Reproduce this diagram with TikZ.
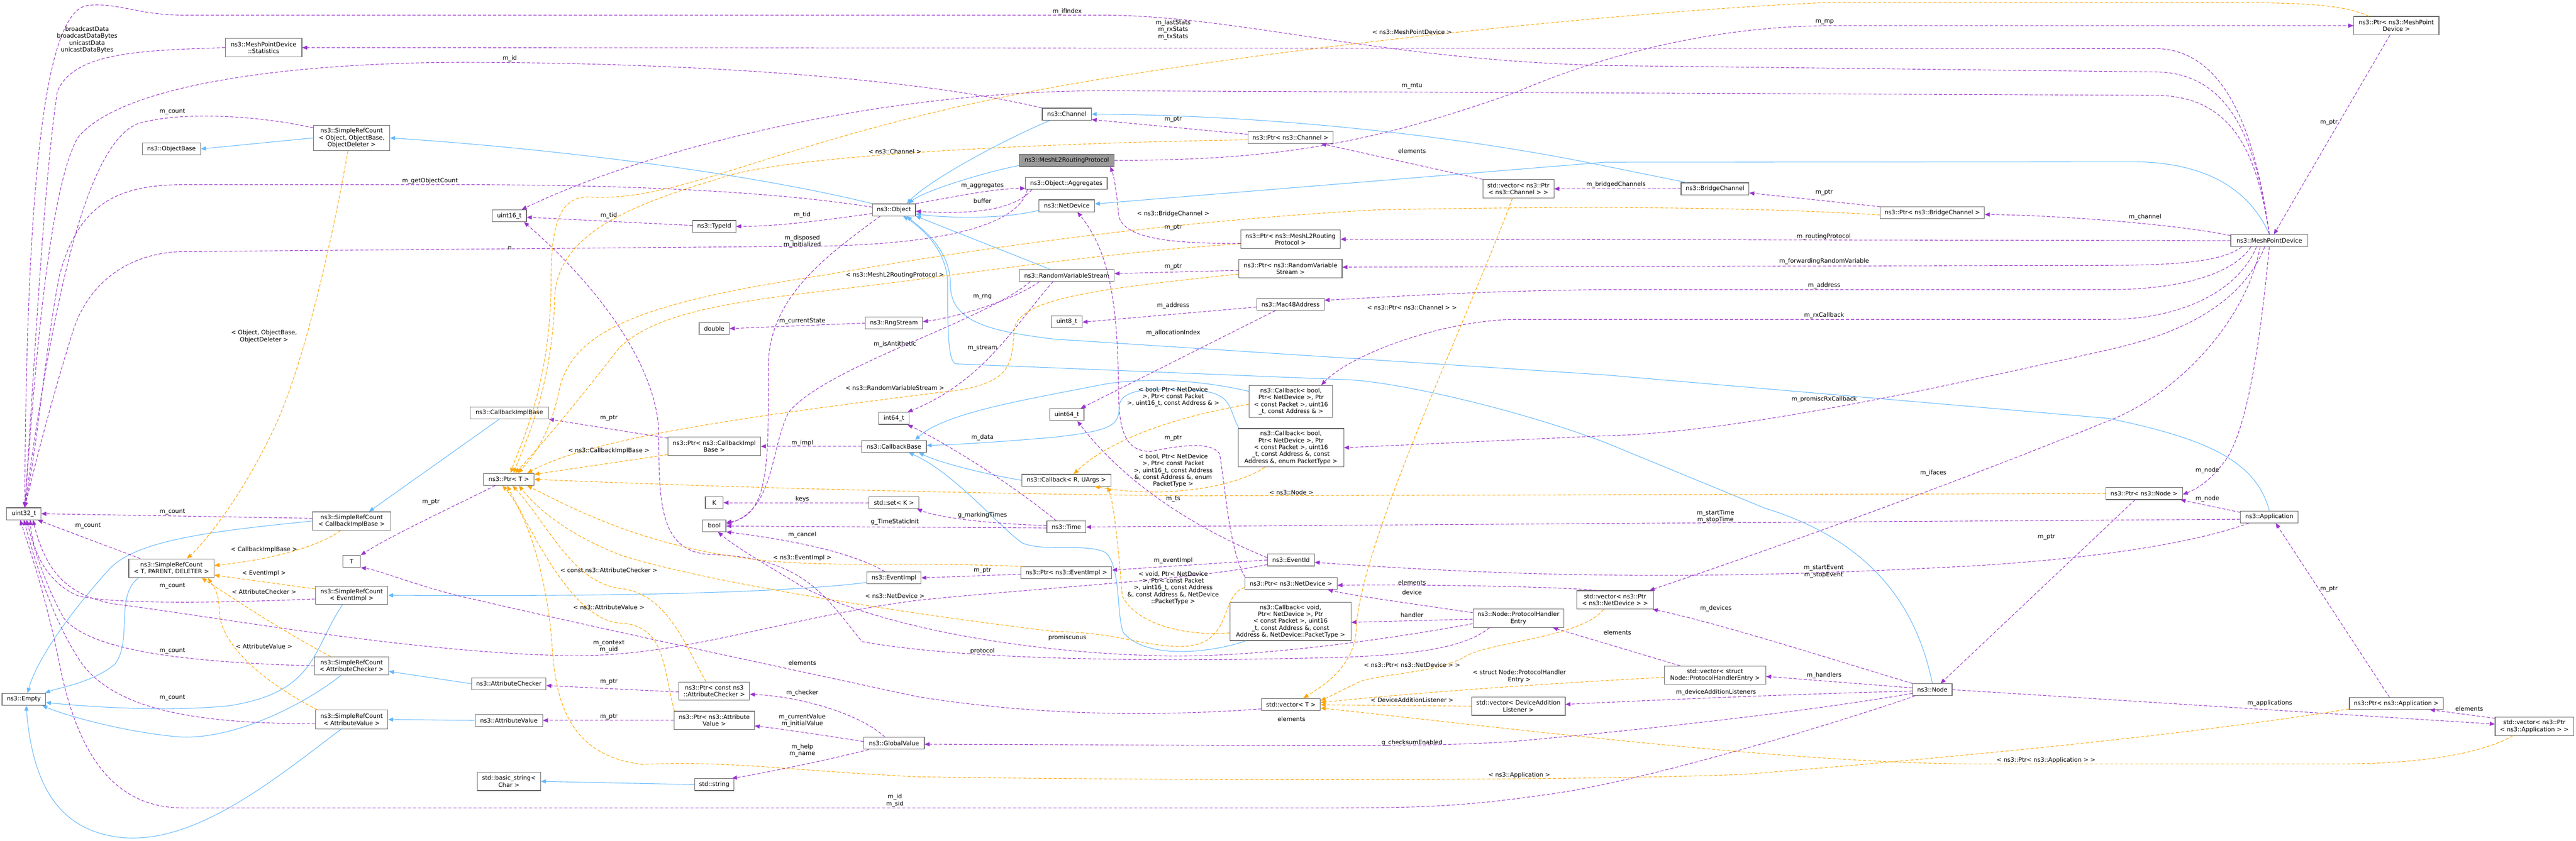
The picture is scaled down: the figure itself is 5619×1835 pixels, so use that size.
\documentclass[tikz,border=0pt]{standalone}
\usepackage{fontspec}
\setmainfont{DejaVu Sans}
\usetikzlibrary{arrows.meta}
\definecolor{purc}{HTML}{9A32CD}
\definecolor{bluec}{HTML}{63B8FF}
\definecolor{orc}{HTML}{FFA500}
\definecolor{boxc}{HTML}{666666}
\definecolor{hlc}{HTML}{999999}
\newcommand\dfs{\fontsize{13}{15}\selectfont}
\tikzset{
  box/.style={draw=boxc, line width=1.3pt, fill=white, font=\dfs, align=center, inner xsep=3pt, inner ysep=3pt, minimum height=26pt},
  hl/.style={box, fill=hlc},
  inh/.style={draw=bluec, line width=1.2pt, -{Triangle[length=11pt,width=9pt]}},
  use/.style={draw=purc, line width=1.2pt, dash pattern=on 7pt off 4pt, -{Triangle[length=11pt,width=9pt]}},
  tmpl/.style={draw=orc, line width=1.2pt, dash pattern=on 7pt off 4pt, -{Triangle[length=11pt,width=9pt]}},
  lbl/.style={font=\dfs, align=center, inner sep=0pt}
}
\begin{document}
\begin{tikzpicture}[x=1pt,y=-1pt]
\fill[white] (0,0) rectangle (5619,1835);
\useasboundingbox (0,0) rectangle (5619,1835);
% ---------------- nodes
\node[box,minimum width=75pt] (uint32) at (52,1121) {uint32\_t};
\node[box,minimum width=95pt] (empty) at (52,1526) {ns3::Empty};
\node[box,minimum width=167pt,minimum height=40pt] (stats) at (575,104) {ns3::MeshPointDevice\\::Statistics};
\node[box,minimum width=127pt] (objbase) at (374,325) {ns3::ObjectBase};
\node[box,minimum width=166pt,minimum height=55pt] (srcObj) at (767,301) {ns3::SimpleRefCount\\< Object, ObjectBase,\\ ObjectDeleter >};
\node[box,minimum width=170pt,minimum height=40pt] (srcCIB) at (767,1137) {ns3::SimpleRefCount\\< CallbackImplBase >};
\node[box,minimum width=186pt,minimum height=41pt] (srcT) at (374,1240) {ns3::SimpleRefCount\\< T, PARENT, DELETER >};
\node[box,minimum width=39pt] (Tn) at (767,1225) {T};
\node[box,minimum width=158pt,minimum height=40pt] (srcEI) at (767,1299) {ns3::SimpleRefCount\\< EventImpl >};
\node[box,minimum width=161pt,minimum height=40pt] (srcAC) at (767,1453) {ns3::SimpleRefCount\\< AttributeChecker >};
\node[box,minimum width=158pt,minimum height=41pt] (srcAV) at (767,1570) {ns3::SimpleRefCount\\< AttributeValue >};
\node[box,minimum width=75pt] (uint16) at (1111,471) {uint16\_t};
\node[box,minimum width=171pt] (cib) at (1111,901) {ns3::CallbackImplBase};
\node[box,minimum width=110pt] (ptrT) at (1110,1046) {ns3::Ptr< T >};
\node[box,minimum width=162pt] (ac) at (1110,1492) {ns3::AttributeChecker};
\node[box,minimum width=147pt] (av) at (1110,1572) {ns3::AttributeValue};
\node[box,minimum width=138pt,minimum height=40pt] (bstr) at (1110,1705) {std::basic\_string<\\ Char >};
\node[box,minimum width=94pt] (typeid) at (1558,494) {ns3::TypeId};
\node[box,minimum width=66pt] (dbl) at (1558,717) {double};
\node[box,minimum width=202pt,minimum height=40pt] (ptrCIB) at (1558,974) {ns3::Ptr< ns3::CallbackImpl\\Base >};
\node[box,minimum width=39pt] (Kn) at (1558,1097) {K};
\node[box,minimum width=51pt] (boolN) at (1558,1147) {bool};
\node[box,minimum width=154pt,minimum height=40pt] (ptrAC) at (1558,1508) {ns3::Ptr< const ns3\\::AttributeChecker >};
\node[box,minimum width=175pt,minimum height=40pt] (ptrAV) at (1558,1572) {ns3::Ptr< ns3::Attribute\\Value >};
\node[box,minimum width=86pt] (str) at (1558,1712) {std::string};
\node[box,minimum width=94pt] (object) at (1950,458) {ns3::Object};
\node[box,minimum width=125pt] (rng) at (1950,705) {ns3::RngStream};
\node[box,minimum width=66pt] (int64) at (1950,913) {int64\_t};
\node[box,minimum width=141pt] (cbbase) at (1950,974) {ns3::CallbackBase};
\node[box,minimum width=109pt] (setK) at (1950,1097) {std::set< K >};
\node[box,minimum width=118pt] (eventimpl) at (1950,1261) {ns3::EventImpl};
\node[box,minimum width=132pt] (globalvalue) at (1950,1622) {ns3::GlobalValue};
\node[box,minimum width=107pt] (channel) at (2327,249) {ns3::Channel};
\node[hl,minimum width=207pt] (meshl2) at (2327,350) {ns3::MeshL2RoutingProtocol};
\node[box,minimum width=178pt] (aggregates) at (2326,400) {ns3::Object::Aggregates};
\node[box,minimum width=121pt] (netdevice) at (2327,449) {ns3::NetDevice};
\node[box,minimum width=207pt] (rvs) at (2327,601) {ns3::RandomVariableStream};
\node[box,minimum width=67pt] (uint8) at (2327,702) {uint8\_t};
\node[box,minimum width=75pt] (uint64) at (2327,905) {uint64\_t};
\node[box,minimum width=194pt] (callbackR) at (2326,1048) {ns3::Callback< R, UArgs >};
\node[box,minimum width=85pt] (timeN) at (2326,1150) {ns3::Time};
\node[box,minimum width=198pt] (ptrEI) at (2326,1250) {ns3::Ptr< ns3::EventImpl >};
\node[box,minimum width=186pt] (ptrChannel) at (2815,300) {ns3::Ptr< ns3::Channel >};
\node[box,minimum width=217pt,minimum height=40pt] (ptrMeshL2) at (2815,522) {ns3::Ptr< ns3::MeshL2Routing\\Protocol >};
\node[box,minimum width=225pt,minimum height=40pt] (ptrRVS) at (2815,586) {ns3::Ptr< ns3::RandomVariable\\Stream >};
\node[box,minimum width=147pt] (mac48) at (2815,664) {ns3::Mac48Address};
\node[box,minimum width=182pt,minimum height=70pt] (cb1) at (2816,876) {ns3::Callback< bool,\\ Ptr< NetDevice >, Ptr\\< const Packet >, uint16\\\_t, const Address \& >};
\node[box,minimum width=230pt,minimum height=84pt] (cb2) at (2816,977) {ns3::Callback< bool,\\ Ptr< NetDevice >, Ptr\\< const Packet >, uint16\\\_t, const Address \&, const\\ Address \&, enum PacketType >};
\node[box,minimum width=102pt] (eventid) at (2816,1222) {ns3::EventId};
\node[box,minimum width=201pt] (ptrND) at (2816,1273) {ns3::Ptr< ns3::NetDevice >};
\node[box,minimum width=264pt,minimum height=84pt] (cb3) at (2815,1356) {ns3::Callback< void,\\ Ptr< NetDevice >, Ptr\\< const Packet >, uint16\\\_t, const Address \&, const\\ Address \&, NetDevice::PacketType >};
\node[box,minimum width=128pt] (vecT) at (2816,1537) {std::vector< T >};
\node[box,minimum width=155pt,minimum height=40pt] (vecChannel) at (3312,412) {std::vector< ns3::Ptr\\< ns3::Channel > >};
\node[box,minimum width=198pt,minimum height=40pt] (phe) at (3312,1349) {ns3::Node::ProtocolHandler\\Entry};
\node[box,minimum width=204pt,minimum height=40pt] (vecDAL) at (3312,1541) {std::vector< DeviceAddition\\Listener >};
\node[box,minimum width=167pt,minimum height=40pt] (vecND) at (3523,1309) {std::vector< ns3::Ptr\\< ns3::NetDevice > >};
\node[box,minimum width=148pt] (bridge) at (3741,412) {ns3::BridgeChannel};
\node[box,minimum width=221pt,minimum height=39pt] (vecPHE) at (3741,1473) {std::vector< struct\\ Node::ProtocolHandlerEntry >};
\node[box,minimum width=227pt] (ptrBridge) at (4215,464) {ns3::Ptr< ns3::BridgeChannel >};
\node[box,minimum width=86pt] (nodeN) at (4215,1505) {ns3::Node};
\node[box,minimum width=167pt] (ptrNode) at (4677,1077) {ns3::Ptr< ns3::Node >};
\node[box,minimum width=168pt] (mpd) at (4950,525) {ns3::MeshPointDevice};
\node[box,minimum width=126pt] (app) at (4950,1128) {ns3::Application};
\node[box,minimum width=186pt,minimum height=40pt] (ptrMPD) at (5227,56) {ns3::Ptr< ns3::MeshPoint\\Device >};
\node[box,minimum width=205pt] (ptrApp) at (5227,1535) {ns3::Ptr< ns3::Application >};
\node[box,minimum width=171pt,minimum height=40pt] (vecApp) at (5528,1585) {std::vector< ns3::Ptr\\< ns3::Application > >};

% ---------------- inheritance (blue)
\draw[inh] (srcObj.west) -- (objbase.east);
\draw[inh] (object.north west) .. controls (1600,370) and (1150,320) .. (srcObj.east);
\draw[inh] (srcCIB.west) .. controls (450,1160) and (300,1180) .. (240,1240) .. controls (150,1340) and (80,1440) .. ([xshift=8]empty.north);
\draw[inh] ([xshift=-72]srcT.south) .. controls (250,1300) and (290,1400) .. (250,1450) .. controls (200,1490) and (130,1500) .. ([xshift=-2]empty.north east);
\draw[inh] ([xshift=-20]srcEI.south) .. controls (680,1420) and (690,1510) .. (500,1540) .. controls (350,1555) and (170,1540) .. ([yshift=-7]empty.east);
\draw[inh] ([xshift=-23]srcAC.south) .. controls (660,1540) and (500,1620) .. (380,1607) .. controls (260,1595) and (140,1560) .. ([xshift=-8]empty.south east);
\draw[inh] ([xshift=-23]srcAV.south) .. controls (600,1700) and (430,1840) .. (270,1828) .. controls (120,1815) and (70,1700) .. ([xshift=5]empty.south);
\draw[inh] ([xshift=-22]cib.south) -- ([xshift=38]srcCIB.north);
\draw[inh] ([yshift=-10]eventimpl.west) .. controls (1700,1295) and (1300,1302) .. (srcEI.east);
\draw[inh] (ac.west) -- ([yshift=-12]srcAC.east);
\draw[inh] (av.west) -- (srcAV.east);
\draw[inh] (str.west) -- (bstr.east);
\draw[inh] ([xshift=-36]channel.south) .. controls (2200,300) and (2030,390) .. ([xshift=28]object.north);
\draw[inh] ([yshift=-11]meshl2.west) .. controls (2130,380) and (2010,420) .. ([xshift=32]object.north);
\draw[inh] ([yshift=-10]netdevice.west) .. controls (2180,480) and (2060,475) .. ([yshift=-9]object.east);
\draw[inh] ([xshift=-37]rvs.north) -- (object.south east);
\draw[inh] (nodeN.north) .. controls (4180,1320) and (4080,1180) .. (3850,1109) -- (3500,965) .. controls (3300,890) and (3050,835) .. (2947,829) -- (2085,794) .. controls (2068,790) and (2067,720) .. (2067,620) .. controls (2067,540) and (2000,490) .. ([xshift=20]object.south);
\draw[inh] (app.north) .. controls (4920,1000) and (4800,955) .. (4600,913) -- (3500,818) -- (2300,740) .. controls (2150,722) and (2073,700) .. (2073,620) .. controls (2073,540) and (2005,495) .. ([xshift=28]object.south);
\draw[inh] (mpd.north) .. controls (4910,420) and (4820,353) .. (4650,353) -- (3500,354) -- ([yshift=4]netdevice.east);
\draw[inh] ([xshift=-62]bridge.north) -- (3500,362) .. controls (3200,300) and (2800,252) .. (channel.east);
\draw[inh] (callbackR.west) .. controls (2150,1035) and (2050,1010) .. ([xshift=54]cbbase.south);
\draw[inh] ([yshift=22]cb1.west) .. controls (2600,825) and (2480,825) .. (2400,840) .. controls (2250,870) and (2060,900) .. ([xshift=46]cbbase.north);
\draw[inh] ([xshift=2]cb2.north west) .. controls (2680,895) and (2690,860) .. (2620,853) .. controls (2520,845) and (2441,845) .. (2441,890) .. controls (2441,930) and (2420,940) .. (2300,954) .. controls (2150,967) and (2080,970) .. ([yshift=2]cbbase.east);
\draw[inh] ([xshift=-98]cb3.south) .. controls (2640,1425) and (2500,1440) .. (2450,1380) .. controls (2435,1340) and (2445,1230) .. (2410,1205) .. controls (2370,1185) and (2280,1205) .. (2230,1185) .. controls (2180,1150) and (2080,1030) .. ([xshift=32]cbbase.south);

% ---------------- usage (purple)
\draw[use] (mpd.north) .. controls (4925,330) and (4870,106) .. (4700,106) -- (stats.east);
\draw[use] (mpd.north) .. controls (4925,340) and (4880,157) .. (4700,157) -- (3500,143) .. controls (3000,130) and (2700,33) .. (2400,33) -- (400,33) .. controls (300,33) and (260,5) .. (190,12) .. controls (110,25) and (58,300) .. ([xshift=2]uint32.north);
\draw[use] (mpd.north) .. controls (4925,350) and (4880,208) .. (4700,208) -- (2400,198) .. controls (1900,200) and (1400,330) .. ([xshift=27]uint16.north);
\draw[use] (meshl2.east) .. controls (2800,350) and (3000,310) .. (3310,200) .. controls (3450,140) and (3700,56) .. (4000,56) -- (ptrMPD.west);
\draw[use] ([xshift=-14]ptrMPD.south) -- ([xshift=10]mpd.north);
\draw[use] ([yshift=11]mpd.west) .. controls (4750,490) and (4500,470) .. ([yshift=-4]ptrBridge.east);
\draw[use] ([yshift=13]ptrBridge.west) -- ([yshift=-9]bridge.east);
\draw[use] (bridge.west) -- (vecChannel.east);
\draw[use] (vecChannel.north west) -- ([xshift=67]ptrChannel.south);
\draw[use] ([yshift=7]ptrChannel.west) -- ([yshift=-12]channel.east);
\draw[use] ([xshift=-55]channel.north) .. controls (2000,170) and (1500,136) .. (1000,136) .. controls (600,138) and (260,190) .. (170,300) .. controls (100,420) and (70,900) .. ([xshift=2]uint32.north);
\draw[use] (mpd.west) -- (ptrMeshL2.east);
\draw[use] ([yshift=-9]ptrMeshL2.west) .. controls (2550,532) and (2450,520) .. (2440,470) .. controls (2436,420) and (2430,385) .. ([xshift=95]meshl2.south);
\draw[use] ([xshift=-60]mpd.south) .. controls (4850,570) and (4750,579) .. (4600,579) -- ([yshift=3]ptrRVS.east);
\draw[use] ([yshift=-4]ptrRVS.west) -- ([yshift=4]rvs.east);
\draw[use] ([xshift=-40]mpd.south) .. controls (4870,600) and (4750,632) .. (4600,632) -- (3500,632) .. controls (3200,635) and (3000,650) .. ([yshift=9]mac48.east);
\draw[use] ([yshift=-6]mac48.west) -- ([yshift=-1]uint8.east);
\draw[use] ([xshift=-33]mac48.south) -- ([xshift=30]uint64.north);
\draw[use] ([xshift=-28]mpd.south) .. controls (4880,640) and (4750,697) .. (4600,697) -- (3300,697) .. controls (3150,700) and (2950,770) .. ([xshift=66]cb1.north);
\draw[use] ([xshift=-10]mpd.south) .. controls (4880,690) and (4700,740) .. (4600,763) .. controls (4300,830) and (3800,945) .. (3500,951) -- (cb2.east);
\draw[use] (object.north east) .. controls (2080,430) and (2160,412) .. ([yshift=-11]aggregates.west);
\draw[use] ([xshift=-75]aggregates.south) .. controls (2220,450) and (2150,470) .. ([yshift=-3]object.east);
\draw[use] ([xshift=-85]aggregates.south) .. controls (2225,480) and (2100,530) .. (1800,537) -- (400,549) .. controls (300,550) and (200,600) .. (160,720) .. controls (110,880) and (80,1000) .. ([xshift=2]uint32.north);
\draw[use] ([yshift=-8]object.west) .. controls (1800,480) and (1700,494) .. (typeid.east);
\draw[use] ([yshift=2]typeid.west) -- ([yshift=-3]uint16.east);
\draw[use] ([yshift=6]object.west) .. controls (1700,420) and (1400,403) .. (1000,403) -- (400,403) .. controls (250,403) and (170,450) .. (130,600) .. controls (100,750) and (85,950) .. ([xshift=2]uint32.north);
\draw[use] (stats.west) .. controls (300,110) and (160,115) .. (125,200) .. controls (95,400) and (75,800) .. ([xshift=2]uint32.north);
\draw[use] ([yshift=22]srcObj.west) .. controls (580,255) and (400,240) .. (300,270) .. controls (180,320) and (110,700) .. ([xshift=2]uint32.north);
\draw[use] ([yshift=6]srcCIB.west) -- (uint32.east);
\draw[use] ([xshift=-68]srcT.north) -- ([xshift=30]uint32.south);
\draw[use] ([yshift=-8]srcEI.west) .. controls (500,1315) and (250,1320) .. (170,1300) .. controls (100,1270) and (70,1200) .. ([xshift=14]uint32.south);
\draw[use] (srcAC.west) .. controls (400,1445) and (200,1420) .. (140,1350) .. controls (100,1280) and (75,1200) .. ([xshift=6]uint32.south);
\draw[use] ([yshift=-9]srcAV.west) .. controls (400,1580) and (250,1540) .. (180,1450) .. controls (110,1350) and (70,1200) .. (uint32.south);
\draw[use] ([yshift=-10]eventid.west) .. controls (2600,1265) and (2300,1280) .. (2000,1310) .. controls (1700,1350) and (1500,1431) .. (1250,1431) .. controls (900,1425) and (500,1350) .. (250,1318) .. controls (150,1300) and (100,1250) .. ([xshift=20]uint32.south);
\draw[use] ([xshift=-38]nodeN.south) .. controls (4000,1580) and (3600,1700) .. (3400,1730) .. controls (3200,1760) and (3100,1763) .. (2900,1763) -- (400,1763) .. controls (250,1763) and (170,1650) .. (130,1450) .. controls (100,1300) and (65,1200) .. ([xshift=-8]uint32.south);
\draw[use] ([xshift=-30]ptrT.south) .. controls (1000,1100) and (850,1170) .. (Tn.north east);
\draw[use] ([yshift=-10]vecT.west) .. controls (2500,1565) and (2250,1560) .. (2000,1520) .. controls (1700,1455) and (1300,1370) .. (1000,1300) .. controls (900,1275) and (830,1245) .. (Tn.south east);
\draw[use] ([yshift=18]ptrCIB.west) -- (cib.south east);
\draw[use] (cbbase.west) -- (ptrCIB.east);
\draw[use] ([xshift=-60]rvs.south) .. controls (2220,650) and (2100,690) .. ([yshift=3]rng.east);
\draw[use] (rng.west) -- (dbl.east);
\draw[use] ([xshift=-80]rvs.south) .. controls (2150,700) and (1800,800) .. (1720,900) .. controls (1680,980) and (1690,1110) .. ([yshift=3]boolN.east);
\draw[use] ([xshift=-30]rvs.south) .. controls (2220,700) and (2150,830) .. ([xshift=-4]int64.north east);
\draw[use] ([xshift=-22]timeN.north) .. controls (2200,1050) and (2050,960) .. ([xshift=-4]int64.south east);
\draw[use] ([yshift=3]timeN.west) .. controls (2150,1142) and (2050,1130) .. ([xshift=-5]setK.south east);
\draw[use] ([yshift=-2]timeN.west) -- ([yshift=-1]boolN.east);
\draw[use] (setK.west) -- (Kn.east);
\draw[use] ([xshift=-20]eventimpl.north) .. controls (1850,1200) and (1700,1175) .. (boolN.south east);
\draw[use] ([xshift=-30]object.south) .. controls (1800,560) and (1676,650) .. (1676,800) .. controls (1676,1000) and (1680,1125) .. ([yshift=7]boolN.east);
\draw[use] ([yshift=-12]phe.west) .. controls (3000,1400) and (2700,1440) .. (2500,1430) .. controls (2200,1420) and (1900,1360) .. (1750,1280) .. controls (1650,1220) and (1600,1190) .. ([xshift=8]boolN.south);
\draw[use] ([xshift=-63]phe.south) .. controls (3200,1410) and (3100,1430) .. (2900,1435) .. controls (2500,1445) and (2100,1440) .. (1880,1400) .. controls (1800,1300) and (1750,1215) .. (1550,1210) .. controls (1440,1205) and (1437,1100) .. (1437,950) .. controls (1437,800) and (1300,620) .. ([xshift=32]uint16.south);
\draw[use] (eventid.west) -- ([yshift=6]ptrEI.east);
\draw[use] ([yshift=-3]ptrEI.west) -- (eventimpl.east);
\draw[use] ([yshift=5]eventid.west) .. controls (2600,1150) and (2450,1050) .. ([xshift=23]uint64.south);
\draw[use] ([xshift=-20]globalvalue.north) .. controls (1880,1560) and (1750,1520) .. ([yshift=-7]ptrAC.east);
\draw[use] ([yshift=4]globalvalue.west) .. controls (1800,1605) and (1700,1590) .. ([yshift=-12]ptrAV.east);
\draw[use] ([xshift=-55]globalvalue.south) .. controls (1800,1660) and (1650,1690) .. ([xshift=-5]str.north east);
\draw[use] ([yshift=-2]ptrAC.west) -- ([yshift=-4]ac.east);
\draw[use] (ptrAV.west) -- (av.east);
\draw[use] ([yshift=-8]nodeN.west) .. controls (3900,1560) and (3500,1600) .. (3300,1618) .. controls (3100,1632) and (2800,1626) .. ([yshift=-2]globalvalue.east);
\draw[use] (nodeN.north west) .. controls (4000,1440) and (3750,1360) .. ([xshift=-2]vecND.south east);
\draw[use] ([yshift=4]nodeN.west) -- ([yshift=-3]vecPHE.east);
\draw[use] ([yshift=-3]nodeN.west) .. controls (3900,1515) and (3600,1528) .. ([yshift=4]vecDAL.east);
\draw[use] (nodeN.east) .. controls (4500,1520) and (5200,1565) .. ([yshift=5]vecApp.west);
\draw[use] ([yshift=-3]vecApp.north west) -- ([xshift=-30]ptrApp.south east);
\draw[use] ([xshift=-15]ptrApp.north) -- ([xshift=14]app.south);
\draw[use] ([yshift=10]app.west) -- ([xshift=-5]ptrNode.south east);
\draw[use] (mpd.south) .. controls (4930,750) and (4900,950) .. (4850,1010) .. controls (4820,1050) and (4790,1068) .. ([yshift=-2]ptrNode.east);
\draw[use] ([xshift=-20]ptrNode.south) -- ([xshift=18]nodeN.north);
\draw[use] ([yshift=-5]app.west) -- (timeN.east);
\draw[use] ([xshift=-45]app.south) .. controls (4800,1180) and (4600,1217) .. (4300,1235) .. controls (3800,1262) and (3400,1265) .. ([yshift=-5]eventid.east);
\draw[use] ([xshift=-20]mpd.south) .. controls (4900,700) and (4750,860) .. (4600,918) .. controls (4200,1080) and (3800,1220) .. ([xshift=75]vecND.north);
\draw[use] ([xshift=-40]vecND.north) .. controls (3400,1280) and (3100,1275) .. ([yshift=-4]ptrND.east);
\draw[use] ([yshift=12]phe.west) .. controls (3100,1320) and (2950,1300) .. ([xshift=80]ptrND.south);
\draw[use] ([yshift=-2]phe.west) -- ([yshift=-2]cb3.east);
\draw[use] ([xshift=-76]vecPHE.north) -- ([xshift=75]phe.south);
\draw[use] ([xshift=-100]ptrND.north) .. controls (2680,1200) and (2672,1050) .. (2660,990) .. controls (2640,960) and (2560,975) .. (2510,985) .. controls (2460,985) and (2441,950) .. (2440,860) .. controls (2438,700) and (2430,560) .. ([xshift=23]netdevice.south);

% ---------------- template instances (orange)
\draw[tmpl] ([xshift=-8]srcObj.south) .. controls (720,550) and (660,800) .. (600,930) .. controls (530,1080) and (450,1180) .. ([xshift=34]srcT.north);
\draw[tmpl] ([xshift=-24]srcCIB.south) .. controls (700,1190) and (600,1220) .. ([yshift=6]srcT.east);
\draw[tmpl] ([yshift=14]srcEI.west) -- ([yshift=-15]srcT.east);
\draw[tmpl] ([xshift=-46]srcAC.north) .. controls (620,1380) and (500,1300) .. ([xshift=66]srcT.south);
\draw[tmpl] ([xshift=-75]srcAV.north) .. controls (560,1480) and (478,1400) .. (478,1330) .. controls (478,1290) and (462,1275) .. ([xshift=80]srcT.south);
\draw[tmpl] ([yshift=-18]ptrCIB.west) -- ([yshift=11]ptrT.east);
\draw[tmpl] ([yshift=-5]ptrChannel.west) .. controls (2400,310) and (1800,330) .. (1600,380) .. controls (1400,440) and (1215,500) .. (1210,650) .. controls (1205,850) and (1140,980) .. ([xshift=10]ptrT.north);
\draw[tmpl] ([xshift=-60]ptrMPD.north) .. controls (5100,5) and (5000,5) .. (4700,5) -- (4000,5) .. controls (3600,20) and (2800,100) .. (2300,190) .. controls (1700,300) and (1500,440) .. (1290,430) .. controls (1215,425) and (1202,500) .. (1202,620) .. controls (1200,850) and (1130,980) .. ([xshift=4]ptrT.north);
\draw[tmpl] ([yshift=-5]ptrBridge.west) .. controls (3800,450) and (3400,450) .. (3000,458) .. controls (2600,480) and (2200,530) .. (1800,600) .. controls (1400,660) and (1250,720) .. (1220,850) .. controls (1200,950) and (1160,1000) .. ([xshift=20]ptrT.north);
\draw[tmpl] ([yshift=-10]ptrMeshL2.west) .. controls (2500,545) and (2300,570) .. (2000,610) .. controls (1700,650) and (1450,660) .. (1350,760) .. controls (1280,850) and (1200,950) .. ([xshift=14]ptrT.north);
\draw[tmpl] ([yshift=-12]ptrRVS.west) .. controls (2400,630) and (2220,650) .. (2212,720) .. controls (2208,800) and (2200,830) .. (2100,850) .. controls (1700,900) and (1300,950) .. ([xshift=40]ptrT.north);
\draw[tmpl] ([xshift=-94]ptrEI.north) .. controls (2000,1225) and (1800,1240) .. (1640,1220) .. controls (1400,1190) and (1250,1110) .. ([xshift=40]ptrT.south);
\draw[tmpl] ([yshift=-9]ptrND.west) .. controls (2660,1300) and (2690,1400) .. (2590,1410) .. controls (2500,1415) and (2450,1380) .. (2300,1378) .. controls (1900,1330) and (1500,1260) .. (1350,1210) .. controls (1250,1170) and (1180,1120) .. ([xshift=22]ptrT.south);
\draw[tmpl] ([xshift=-18]ptrAC.north) .. controls (1500,1420) and (1460,1300) .. (1360,1285) .. controls (1250,1275) and (1200,1150) .. ([xshift=8]ptrT.south);
\draw[tmpl] ([xshift=-87]ptrAV.north) .. controls (1445,1450) and (1450,1370) .. (1360,1360) .. controls (1260,1360) and (1180,1200) .. ([xshift=-4]ptrT.south);
\draw[tmpl] ([yshift=-12]ptrApp.west) .. controls (4800,1600) and (4300,1650) .. (3800,1690) .. controls (3400,1705) and (2500,1703) .. (2000,1695) .. controls (1700,1680) and (1600,1660) .. (1400,1668) .. controls (1260,1650) and (1215,1560) .. (1205,1420) .. controls (1195,1260) and (1150,1120) .. ([xshift=-14]ptrT.south);
\draw[tmpl] (ptrNode.west) -- (2600,1082) .. controls (2000,1076) and (1500,1060) .. (ptrT.east);
\draw[tmpl] ([xshift=-13]vecChannel.south) .. controls (3200,700) and (2960,1200) .. (2958,1380) .. controls (2950,1460) and (2880,1500) .. ([xshift=27]vecT.north);
\draw[tmpl] ([xshift=-25]vecND.south) .. controls (3450,1390) and (3260,1400) .. (3200,1430) .. controls (3140,1470) and (3000,1470) .. (2960,1490) .. controls (2930,1505) and (2900,1520) .. ([yshift=8]vecT.east);
\draw[tmpl] ([yshift=-5]vecPHE.west) .. controls (3400,1490) and (3100,1510) .. ([yshift=4]vecT.east);
\draw[tmpl] (vecDAL.west) -- ([yshift=-1]vecT.east);
\draw[tmpl] ([xshift=-47]vecApp.south) .. controls (5420,1640) and (5300,1667) .. (5100,1667) -- (4300,1667) .. controls (3900,1665) and (3300,1590) .. ([yshift=-8]vecT.east);
\draw[tmpl] ([yshift=-6]cb1.west) .. controls (2560,910) and (2420,960) .. ([xshift=16]callbackR.north);
\draw[tmpl] ([xshift=-57]cb2.south) .. controls (2700,1060) and (2550,1090) .. ([xshift=62]callbackR.south);
\draw[tmpl] ([yshift=-25]cb3.west) .. controls (2560,1390) and (2470,1350) .. (2448,1300) .. controls (2440,1200) and (2430,1100) .. ([xshift=-8]callbackR.south east);

% ---------------- labels
\node[lbl] (l1) at (190,87) {broadcastData\\broadcastDataBytes\\unicastData\\unicastDataBytes};
\node[lbl] (l2) at (2328,25) {m\_ifIndex};
\node[lbl] (l3) at (2559,65) {m\_lastStats\\m\_rxStats\\m\_txStats};
\node[lbl] (l4) at (3080,70) {< ns3::MeshPointDevice >};
\node[lbl] (l5) at (3080,188) {m\_mtu};
\node[lbl] (l6) at (3980,48) {m\_mp};
\node[lbl] (l7) at (1112,127) {m\_id};
\node[lbl] (l8) at (376,244) {m\_count};
\node[lbl] (l9) at (938,395) {m\_getObjectCount};
\node[lbl] (l10) at (1112,541) {n};
\node[lbl] (l11) at (576,734) {< Object, ObjectBase,\\ObjectDeleter >};
\node[lbl] (l12) at (376,1117) {m\_count};
\node[lbl] (l13) at (192,1147) {m\_count};
\node[lbl] (l14) at (940,1096) {m\_ptr};
\node[lbl] (l15) at (576,1199) {< CallbackImplBase >};
\node[lbl] (l16) at (576,1251) {< EventImpl >};
\node[lbl] (l17) at (376,1279) {m\_count};
\node[lbl] (l18) at (576,1292) {< AttributeChecker >};
\node[lbl] (l19) at (576,1411) {< AttributeValue >};
\node[lbl] (l20) at (376,1420) {m\_count};
\node[lbl] (l21) at (376,1523) {m\_count};
\node[lbl] (l22) at (1328,470) {m\_tid};
\node[lbl] (l23) at (1750,469) {m\_tid};
\node[lbl] (l24) at (1750,527) {m\_disposed\\m\_initialized};
\node[lbl] (l25) at (1952,331) {< ns3::Channel >};
\node[lbl] (l26) at (2143,406) {m\_aggregates};
\node[lbl] (l27) at (2143,438) {buffer};
\node[lbl] (l28) at (1952,600) {< ns3::MeshL2RoutingProtocol >};
\node[lbl] (l29) at (2143,648) {m\_rng};
\node[lbl] (l30) at (1750,701) {m\_currentState};
\node[lbl] (l31) at (1952,751) {m\_isAntithetic};
\node[lbl] (l32) at (2143,760) {m\_stream};
\node[lbl] (l33) at (1952,846) {< ns3::RandomVariableStream >};
\node[lbl] (l34) at (1328,912) {m\_ptr};
\node[lbl] (l35) at (2143,955) {m\_data};
\node[lbl] (l36) at (1750,967) {m\_impl};
\node[lbl] (l37) at (1328,984) {< ns3::CallbackImplBase >};
\node[lbl] (l38) at (1750,1089) {keys};
\node[lbl] (l39) at (2143,1124) {g\_markingTimes};
\node[lbl] (l40) at (1952,1139) {g\_TimeStaticInit};
\node[lbl] (l41) at (1750,1167) {m\_cancel};
\node[lbl] (l42) at (1750,1217) {< ns3::EventImpl >};
\node[lbl] (l43) at (1328,1244) {< const ns3::AttributeChecker >};
\node[lbl] (l44) at (2143,1245) {m\_ptr};
\node[lbl] (l45) at (1952,1300) {< ns3::NetDevice >};
\node[lbl] (l46) at (1328,1325) {< ns3::AttributeValue >};
\node[lbl] (l47) at (2328,1392) {promiscuous};
\node[lbl] (l48) at (1328,1411) {m\_context\\m\_uid};
\node[lbl] (l49) at (2143,1421) {protocol};
\node[lbl] (l50) at (1750,1447) {elements};
\node[lbl] (l51) at (1328,1488) {m\_ptr};
\node[lbl] (l52) at (1750,1512) {m\_checker};
\node[lbl] (l53) at (1328,1564) {m\_ptr};
\node[lbl] (l54) at (1750,1572) {m\_currentValue\\m\_initialValue};
\node[lbl] (l55) at (1750,1637) {m\_help\\m\_name};
\node[lbl] (l56) at (1952,1747) {m\_id\\m\_sid};
\node[lbl] (l57) at (2559,261) {m\_ptr};
\node[lbl] (l58) at (3080,329) {elements};
\node[lbl] (l59) at (3525,403) {m\_bridgedChannels};
\node[lbl] (l60) at (2559,467) {< ns3::BridgeChannel >};
\node[lbl] (l61) at (2559,496) {m\_ptr};
\node[lbl] (l62) at (2559,582) {m\_ptr};
\node[lbl] (l63) at (2559,667) {m\_address};
\node[lbl] (l64) at (3080,671) {< ns3::Ptr< ns3::Channel > >};
\node[lbl] (l65) at (2559,726) {m\_allocationIndex};
\node[lbl] (l66) at (2559,866) {< bool, Ptr< NetDevice\\>, Ptr< const Packet\\>, uint16\_t, const Address \& >};
\node[lbl] (l67) at (2559,956) {m\_ptr};
\node[lbl] (l68) at (2559,1027) {< bool, Ptr< NetDevice\\>, Ptr< const Packet\\>, uint16\_t, const Address\\\&, const Address \&, enum\\PacketType >};
\node[lbl] (l69) at (2817,1075) {< ns3::Node >};
\node[lbl] (l70) at (2559,1089) {m\_ts};
\node[lbl] (l71) at (2559,1223) {m\_eventImpl};
\node[lbl] (l72) at (2559,1283) {< void, Ptr< NetDevice\\>, Ptr< const Packet\\>, uint16\_t, const Address\\\&, const Address \&, NetDevice\\::PacketType >};
\node[lbl] (l73) at (3080,1271) {elements};
\node[lbl] (l74) at (3080,1293) {device};
\node[lbl] (l75) at (3080,1342) {handler};
\node[lbl] (l76) at (3080,1451) {< ns3::Ptr< ns3::NetDevice > >};
\node[lbl] (l77) at (3314,1476) {< struct Node::ProtocolHandler\\Entry >};
\node[lbl] (l78) at (3080,1528) {< DeviceAdditionListener >};
\node[lbl] (l79) at (2817,1569) {elements};
\node[lbl] (l80) at (3080,1621) {g\_checksumEnabled};
\node[lbl] (l81) at (3314,1692) {< ns3::Application >};
\node[lbl] (l82) at (3979,420) {m\_ptr};
\node[lbl] (l83) at (3978,516) {m\_routingProtocol};
\node[lbl] (l84) at (3979,570) {m\_forwardingRandomVariable};
\node[lbl] (l85) at (3979,623) {m\_address};
\node[lbl] (l86) at (3979,688) {m\_rxCallback};
\node[lbl] (l87) at (3979,871) {m\_promiscRxCallback};
\node[lbl] (l88) at (4217,1032) {m\_ifaces};
\node[lbl] (l89) at (3742,1127) {m\_startTime\\m\_stopTime};
\node[lbl] (l90) at (4464,1172) {m\_ptr};
\node[lbl] (l91) at (3978,1247) {m\_startEvent\\m\_stopEvent};
\node[lbl] (l92) at (3743,1328) {m\_devices};
\node[lbl] (l93) at (3528,1380) {elements};
\node[lbl] (l94) at (3979,1474) {m\_handlers};
\node[lbl] (l95) at (3743,1511) {m\_deviceAdditionListeners};
\node[lbl] (l96) at (4463,1659) {< ns3::Ptr< ns3::Application > >};
\node[lbl] (l97) at (5080,267) {m\_ptr};
\node[lbl] (l98) at (4679,474) {m\_channel};
\node[lbl] (l99) at (4815,1027) {m\_node};
\node[lbl] (l100) at (4815,1088) {m\_node};
\node[lbl] (l101) at (5080,1285) {m\_ptr};
\node[lbl] (l102) at (4951,1535) {m\_applications};
\node[lbl] (l103) at (5386,1547) {elements};
\end{tikzpicture}
\end{document}
